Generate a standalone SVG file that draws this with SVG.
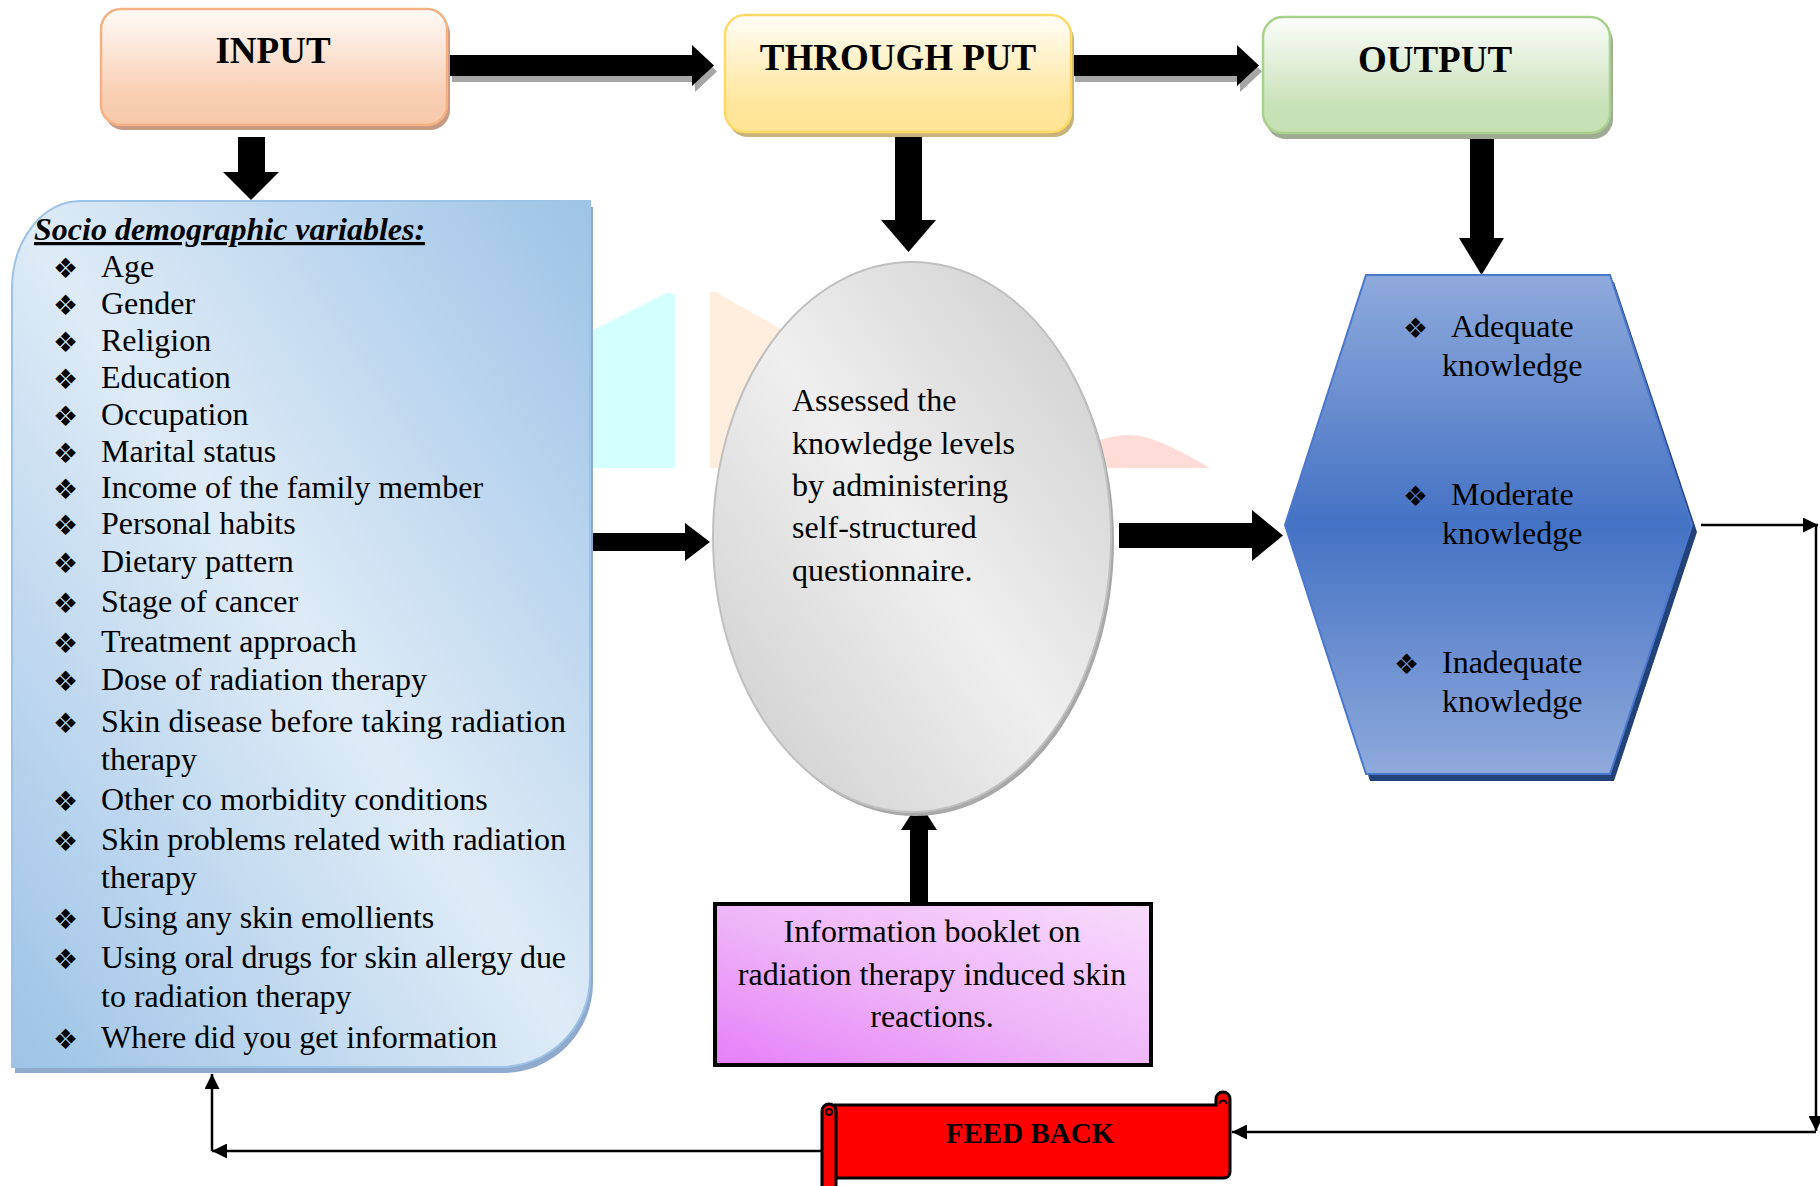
<svg xmlns="http://www.w3.org/2000/svg" width="1820" height="1186" viewBox="0 0 1820 1186">
<style>
.t{font-family:"Liberation Serif","Times New Roman",serif;font-size:32px;fill:#000}
.h{font-family:"Liberation Serif","Times New Roman",serif;font-size:37px;font-weight:bold;fill:#000}
.b{font-family:"DejaVu Sans",sans-serif;font-size:28px;fill:#000}
.thin{stroke:#000;stroke-width:2.5;fill:none}
</style>
<defs>
<linearGradient id="gIn" x1="0" y1="0" x2="0" y2="1"><stop offset="0" stop-color="#fffbf8"/><stop offset="0.75" stop-color="#f8cdb1"/><stop offset="1" stop-color="#f7c9aa"/></linearGradient>
<linearGradient id="gTh" x1="0" y1="0" x2="0" y2="1"><stop offset="0" stop-color="#fffdf7"/><stop offset="0.75" stop-color="#ffe69c"/><stop offset="1" stop-color="#ffe497"/></linearGradient>
<linearGradient id="gOut" x1="0" y1="0" x2="0" y2="1"><stop offset="0" stop-color="#fcfdfb"/><stop offset="0.75" stop-color="#c9e2b9"/><stop offset="1" stop-color="#c5e0b4"/></linearGradient>
<linearGradient id="gSoc" x1="1" y1="0" x2="0" y2="1"><stop offset="0" stop-color="#9dc3e6"/><stop offset="0.5" stop-color="#deebf7"/><stop offset="1" stop-color="#9dc3e6"/></linearGradient>
<linearGradient id="gEl" x1="1" y1="0" x2="0" y2="1"><stop offset="0" stop-color="#cbcbcb"/><stop offset="0.5" stop-color="#efefef"/><stop offset="1" stop-color="#cbcbcb"/></linearGradient>
<linearGradient id="gHex" x1="0" y1="0" x2="0" y2="1"><stop offset="0" stop-color="#8faadc"/><stop offset="0.5" stop-color="#4472c4"/><stop offset="1" stop-color="#8faadc"/></linearGradient>
<linearGradient id="gBk" x1="1" y1="0" x2="0" y2="1"><stop offset="0" stop-color="#f8dcfc"/><stop offset="0.55" stop-color="#eeb3f8"/><stop offset="1" stop-color="#e57ff9"/></linearGradient>
<marker id="ah" viewBox="0 0 15 15" refX="15" refY="7.5" markerWidth="15" markerHeight="15" markerUnits="userSpaceOnUse" orient="auto"><path d="M0,0 L15,7.5 L0,15 Z" fill="#000"/></marker>
</defs>
<rect width="1820" height="1186" fill="#fff"/>
<g id="watermark">
<polygon points="591,331 668,292 675,295 675,468 591,468" fill="#d4ffff"/>
<polygon points="710,292 716,292 800,340 800,468 710,468" fill="#ffeedd"/>
<path d="M1100,468 L1100,440 Q1125,432 1145,437 Q1170,444 1210,468 Z" fill="#ffdcd8"/>
</g>
<g id="connectors">
<polygon points="452,61 695,61 695,51 717,71.5 695,92 695,82 452,82" fill="#a6a6a6"/>
<polygon points="449,55 692,55 692,45 714,65.5 692,86 692,76 449,76" fill="#000"/>
<polygon points="1075,61 1240,61 1240,51 1262,71.5 1240,92 1240,82 1075,82" fill="#a6a6a6"/>
<polygon points="1072,55 1237,55 1237,45 1259,65.5 1237,86 1237,76 1072,76" fill="#000"/>
<polygon points="238,137 265,137 265,172 279,172 251,200 223,172 238,172" fill="#000"/>
<polygon points="895,137 922,137 922,220 936,220 908.5,252 881,220 895,220" fill="#000"/>
<polygon points="1470,137 1494,137 1494,238 1504,238 1481.5,275 1459,238 1470,238" fill="#000"/>
<polygon points="588,533 685,533 685,523 710,542 685,561 685,551 588,551" fill="#000"/>
<polygon points="1119,523 1252,523 1252,510 1283,535.5 1252,561 1252,548 1119,548" fill="#000"/>
<polygon points="910,902 910,830 901,830 919,802 937,830 928,830 928,902" fill="#000"/>
<line class="thin" x1="1701" y1="525" x2="1818" y2="525" marker-end="url(#ah)"/>
<line class="thin" x1="1816" y1="525" x2="1816" y2="1131" marker-end="url(#ah)"/>
<line class="thin" x1="1816" y1="1132" x2="1232" y2="1132" marker-end="url(#ah)"/>
<line class="thin" x1="822" y1="1151" x2="212" y2="1151" marker-end="url(#ah)"/>
<line class="thin" x1="212" y1="1151" x2="212" y2="1074" marker-end="url(#ah)"/>
</g>
<g id="input">
<rect x="104" y="14" width="346" height="116" rx="20" fill="#c49a84"/>
<rect x="101" y="9" width="346" height="116" rx="20" fill="url(#gIn)" stroke="#f4b183" stroke-width="2.5"/>
<text class="h" x="273" y="63" text-anchor="middle">INPUT</text>
</g>
<g id="throughput">
<rect x="728" y="20" width="346" height="117" rx="20" fill="#c8b27a"/>
<rect x="725" y="15" width="346" height="117" rx="20" fill="url(#gTh)" stroke="#ffd966" stroke-width="2.5"/>
<text class="h" x="898" y="70" text-anchor="middle">THROUGH PUT</text>
</g>
<g id="output">
<rect x="1266" y="22" width="347" height="117" rx="20" fill="#9fab95"/>
<rect x="1263" y="17" width="347" height="116" rx="20" fill="url(#gOut)" stroke="#a9d18e" stroke-width="2.5"/>
<text class="h" x="1435" y="72" text-anchor="middle">OUTPUT</text>
</g>
<g id="socio">
<path d="M83,207 L593,207 L593,983 A90,90 0 0 1 503,1073 L15,1073 L15,295 A68,88 0 0 1 83,207 Z" fill="#8faacc"/>
<path d="M80,201 L590,201 L590,977 A90,90 0 0 1 500,1067 L12,1067 L12,289 A68,88 0 0 1 80,201 Z" fill="url(#gSoc)" stroke="#9dc3e6" stroke-width="2"/>
<text class="t" x="34" y="240" font-weight="bold" font-style="italic" text-decoration="underline">Socio demographic variables:</text>
<g class="b">
<text x="53" y="278">❖</text><text x="53" y="315">❖</text><text x="53" y="352">❖</text><text x="53" y="389">❖</text><text x="53" y="426">❖</text><text x="53" y="463">❖</text><text x="53" y="499">❖</text><text x="53" y="535">❖</text><text x="53" y="573">❖</text><text x="53" y="613">❖</text><text x="53" y="653">❖</text><text x="53" y="691">❖</text><text x="53" y="733">❖</text><text x="53" y="811">❖</text><text x="53" y="851">❖</text><text x="53" y="929">❖</text><text x="53" y="969">❖</text><text x="53" y="1049">❖</text>
</g>
<g class="t">
<text x="101" y="277">Age</text>
<text x="101" y="314">Gender</text>
<text x="101" y="351">Religion</text>
<text x="101" y="388">Education</text>
<text x="101" y="425">Occupation</text>
<text x="101" y="462">Marital status</text>
<text x="101" y="498">Income of the family member</text>
<text x="101" y="534">Personal habits</text>
<text x="101" y="572">Dietary pattern</text>
<text x="101" y="612">Stage of cancer</text>
<text x="101" y="652">Treatment approach</text>
<text x="101" y="690">Dose of radiation therapy</text>
<text x="101" y="732" textLength="465" lengthAdjust="spacing">Skin disease before taking radiation</text>
<text x="101" y="770">therapy</text>
<text x="101" y="810">Other co morbidity conditions</text>
<text x="101" y="850" textLength="465" lengthAdjust="spacing">Skin problems related with radiation</text>
<text x="101" y="888">therapy</text>
<text x="101" y="928">Using any skin emollients</text>
<text x="101" y="968" textLength="465" lengthAdjust="spacing">Using oral drugs for skin allergy due</text>
<text x="101" y="1007">to radiation therapy</text>
<text x="101" y="1048">Where did you get information</text>
</g>
</g>
<g id="assess">
<ellipse cx="915" cy="541" rx="199" ry="275" fill="#a8a8a8"/>
<ellipse cx="912" cy="537" rx="199" ry="275" fill="url(#gEl)" stroke="#c0c0c0" stroke-width="2"/>
<g class="t">
<text x="792" y="411">Assessed the</text>
<text x="792" y="454">knowledge levels</text>
<text x="792" y="496">by administering</text>
<text x="792" y="538">self-structured</text>
<text x="792" y="581">questionnaire.</text>
</g>
</g>
<g id="knowledge">
<polygon points="1370,282 1614,282 1697,532 1614,781 1370,781 1289,532" fill="#24427a"/>
<polygon points="1366,275 1610,275 1692,525 1610,774 1366,774 1285,525" fill="url(#gHex)" stroke="#4a78cc" stroke-width="2"/>
<g class="b"><text x="1403" y="338">❖</text><text x="1403" y="506">❖</text><text x="1394" y="674">❖</text></g>
<g class="t">
<text x="1451" y="337">Adequate</text>
<text x="1442" y="376">knowledge</text>
<text x="1451" y="505">Moderate</text>
<text x="1442" y="544">knowledge</text>
<text x="1442" y="673">Inadequate</text>
<text x="1442" y="712">knowledge</text>
</g>
</g>
<g id="booklet">
<rect x="715" y="904" width="436" height="161" fill="url(#gBk)" stroke="#000" stroke-width="4"/>
<g class="t" text-anchor="middle">
<text x="932" y="942">Information booklet on</text>
<text x="932" y="985">radiation therapy induced skin</text>
<text x="932" y="1027">reactions.</text>
</g>
</g>
<g id="feedback">
<path d="M835,1105 L1216,1105 L1216,1099 A7,7 0 0 1 1230,1099 L1230,1172 A6,6 0 0 1 1224,1178 L835,1178 Z" fill="#ff0000" stroke="#000" stroke-width="3"/>
<path d="M1219.5,1104 A3.5,3.5 0 0 1 1226.5,1104" fill="none" stroke="#000" stroke-width="2"/>
<path d="M822,1111 A7,7 0 0 1 836,1111 L836,1195 L822,1195 Z" fill="#ff0000" stroke="#000" stroke-width="3"/>
<circle cx="829" cy="1112" r="3" fill="none" stroke="#000" stroke-width="2"/>
<text x="1030" y="1143" text-anchor="middle" font-family="Liberation Serif, Times New Roman, serif" font-size="29" font-weight="bold">FEED BACK</text>
</g>
</svg>
